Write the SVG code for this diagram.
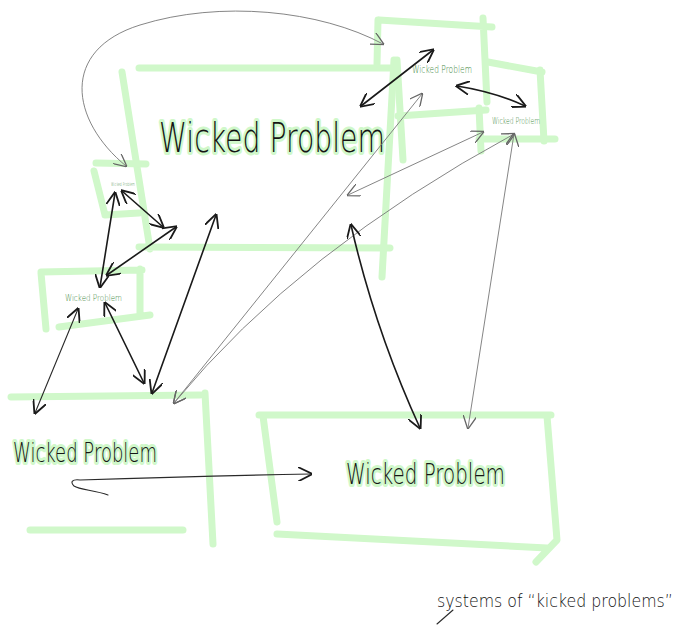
<svg xmlns="http://www.w3.org/2000/svg" width="683" height="625" viewBox="0 0 683 625">
<style>
.g{fill:none;stroke:#d0f8ca;stroke-width:7;stroke-linecap:round;stroke-linejoin:round}
.big{font-family:"DejaVu Sans","Liberation Sans",sans-serif;font-weight:200;fill:#151515;stroke:#d0f8ca;stroke-width:6;stroke-linejoin:round;paint-order:stroke}
.sm{font-family:"DejaVu Sans","Liberation Sans",sans-serif;font-weight:200;fill:#3f8a3f}
.k{fill:none;stroke:#1a1a1a;stroke-width:1.6;stroke-linecap:round}
.t{fill:none;stroke:#2a2a2a;stroke-width:1.1;stroke-linecap:round}
.y{fill:none;stroke:#777;stroke-width:0.9;stroke-linecap:round}
.cap{font-family:"DejaVu Sans","Liberation Sans",sans-serif;font-weight:200;fill:#111}
</style>
<defs>
<marker id="ak" viewBox="0 0 10 10" refX="9" refY="5" markerWidth="14" markerHeight="14" markerUnits="userSpaceOnUse" orient="auto-start-reverse"><path d="M0,0 L10,5 L0,10" fill="none" stroke="#1a1a1a" stroke-width="1.3" stroke-linecap="round"/></marker>
<marker id="ay" viewBox="0 0 10 10" refX="9" refY="5" markerWidth="13" markerHeight="13" markerUnits="userSpaceOnUse" orient="auto-start-reverse"><path d="M0,0 L10,5 L0,10" fill="none" stroke="#666" stroke-width="1" stroke-linecap="round"/></marker>
</defs>
<rect width="683" height="625" fill="#fff"/>

<g id="wp-main">
<path class="g" d="M139,68 L392,68 M122,72 L150,249 M139,247 L390,248 M394,60 L382,277"/>
<text class="big" x="159" y="152" font-size="40" textLength="226" lengthAdjust="spacingAndGlyphs">Wicked Problem</text>
</g>

<g id="wp-top-right">
<path class="g" d="M379,20 L492,27 M378,20 L377,64 M483,18 L487,102 M398,116 L486,110 M397,60 L403,160"/>
<text class="sm" x="412" y="73" font-size="10" textLength="60" lengthAdjust="spacingAndGlyphs">Wicked Problem</text>
</g>

<g id="wp-right-small">
<path class="g" d="M488,62 L542,72 M540,70 L544,141 M479,139 L555,139 M479,108 L481,151"/>
<text class="sm" x="492" y="124" font-size="9" textLength="48" lengthAdjust="spacingAndGlyphs">Wicked Problem</text>
</g>

<g id="wp-tiny">
<path class="g" d="M96,163 L146,164 M94,171 L105,215 M105,215 L139,213"/>
<text class="sm" x="111" y="186" font-size="5" textLength="24" lengthAdjust="spacingAndGlyphs">Wicked Problem</text>
</g>

<g id="wp-left-small">
<path class="g" d="M41,272 L142,270 M41,273 L46,329 M140,269 L140,315 M59,327 L150,315"/>
<text class="sm" x="65" y="301" font-size="9" textLength="57" lengthAdjust="spacingAndGlyphs">Wicked Problem</text>
</g>

<g id="wp-bottom-left">
<path class="g" d="M11,397 L200,395 M205,393 L213,544 M30,530 L183,530"/>
<text class="big" x="13" y="462" font-size="27" textLength="144" lengthAdjust="spacingAndGlyphs">Wicked Problem</text>
</g>

<g id="wp-bottom-right">
<path class="g" d="M259,415 L551,415 M263,416 L277,522 M547,416 L557,540 L536,562 M277,534 L547,548"/>
<text class="big" x="346" y="484" font-size="28" textLength="159" lengthAdjust="spacingAndGlyphs">Wicked Problem</text>
</g>

<g id="connectors">
<path class="y" d="M126,166 C70,120 60,50 140,25 C220,0 320,10 383,44" marker-start="url(#ay)" marker-end="url(#ay)"/>
<path class="k" d="M361,106 L433,50" marker-start="url(#ak)" marker-end="url(#ak)"/>
<path class="k" d="M457,86 Q495,92 525,106" marker-start="url(#ak)" marker-end="url(#ak)"/>
<path class="y" d="M483,132 L348,195" marker-start="url(#ay)" marker-end="url(#ay)"/>
<path class="y" d="M514,134 Q300,250 174,403" marker-start="url(#ay)" marker-end="url(#ay)"/>
<path class="y" d="M514,134 L468,428" marker-start="url(#ay)" marker-end="url(#ay)"/>
<path class="y" d="M422,94 L174,403" marker-start="url(#ay)" marker-end="url(#ay)"/>
<path class="k" d="M351,225 Q375,330 420,428" marker-start="url(#ak)" marker-end="url(#ak)"/>
<path class="k" d="M216,215 L152,393" marker-start="url(#ak)" marker-end="url(#ak)"/>
<path class="k" d="M105,303 L144,383" marker-start="url(#ak)" marker-end="url(#ak)"/>
<path class="t" d="M78,309 L35,413" marker-start="url(#ak)" marker-end="url(#ak)"/>
<path class="k" d="M115,193 L100,287" marker-start="url(#ak)" marker-end="url(#ak)"/>
<path class="k" d="M122,191 L163,227" marker-start="url(#ak)" marker-end="url(#ak)"/>
<path class="k" d="M176,227 L107,275" marker-start="url(#ak)" marker-end="url(#ak)"/>
<path class="t" d="M108,495 C95,490 80,490 74,486 C70,482 72,479 80,480 Q200,476 311,474" marker-end="url(#ak)"/>
</g>

<g id="caption">
<text class="cap" transform="translate(437,607) scale(1,1.2)" x="0" y="0" font-size="15" textLength="236" lengthAdjust="spacingAndGlyphs">systems of “kicked problems”</text>
<path class="t" d="M453,610 L437,624"/>
</g>
</svg>
